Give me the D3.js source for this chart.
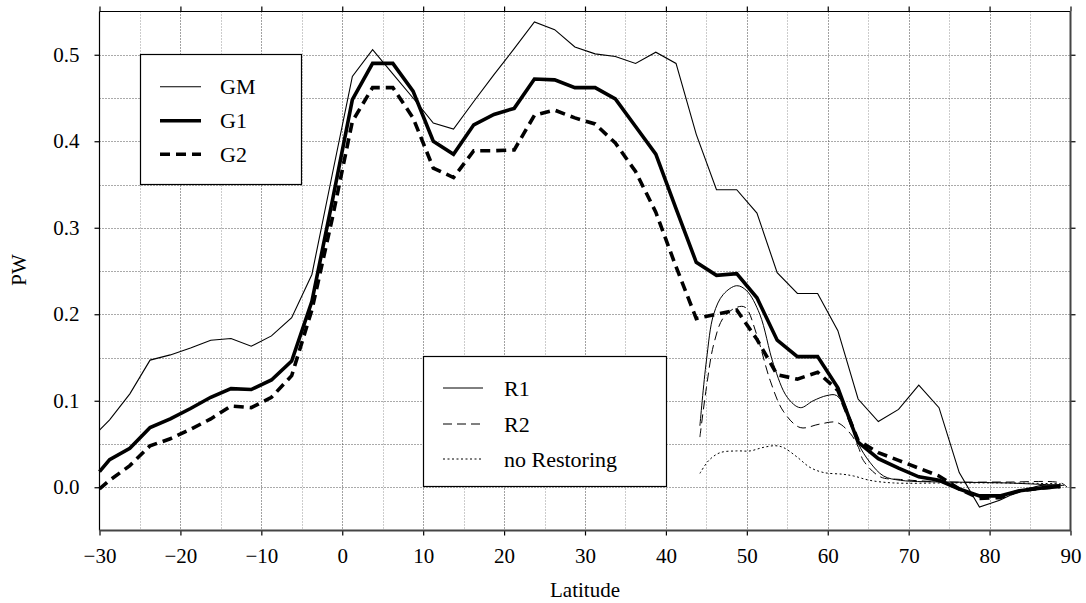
<!DOCTYPE html>
<html>
<head>
<meta charset="utf-8">
<script src="https://cdn.jsdelivr.net/npm/d3@7/dist/d3.min.js"></script>
<style>
  html, body { margin: 0; padding: 0; background: #fff; }
  svg { display: block; }
  text { font-family: "Liberation Serif", "Times New Roman", serif; fill: #000; }
</style>
</head>
<body>
<svg id="chart" width="1086" height="603"></svg>
<script>
// Latitude grid shared by the GM, G1 and G2 runs
const latG = [-30, -28.75, -26.25, -23.75, -21.25, -18.75, -16.25, -13.75, -11.25, -8.75,
  -6.25, -3.75, -1.25, 1.25, 3.75, 6.25, 8.75, 11.25, 13.75, 16.25, 18.75, 21.25, 23.75,
  26.25, 28.75, 31.25, 33.75, 36.25, 38.75, 41.25, 43.75, 46.25, 48.75, 51.25, 53.75,
  56.25, 58.75, 61.25, 63.75, 66.25, 68.75, 71.25, 73.75, 76.25, 78.75, 81.25, 83.75,
  86.25, 88.75];

const GM = [0.066, 0.078, 0.108, 0.147, 0.153, 0.161, 0.170, 0.172, 0.163, 0.175,
  0.196, 0.246, 0.361, 0.475, 0.506, 0.478, 0.450, 0.421, 0.414, 0.446, 0.477, 0.507, 0.538,
  0.529, 0.509, 0.501, 0.498, 0.490, 0.503, 0.490, 0.408, 0.344, 0.344, 0.317, 0.248,
  0.224, 0.224, 0.181, 0.102, 0.076, 0.090, 0.118, 0.092, 0.017, -0.023, -0.015, -0.004,
  0.002, 0.003];

const G1 = [0.018, 0.032, 0.045, 0.069, 0.079, 0.091, 0.104, 0.114, 0.113, 0.124,
  0.146, 0.215, 0.330, 0.448, 0.490, 0.490, 0.458, 0.400, 0.385, 0.419, 0.431, 0.438, 0.472,
  0.471, 0.462, 0.462, 0.449, 0.417, 0.385, 0.322, 0.260, 0.245, 0.247, 0.219, 0.170,
  0.151, 0.151, 0.115, 0.052, 0.033, 0.022, 0.012, 0.008, -0.002, -0.010, -0.010, -0.004,
  -0.001, 0.001];

const G2 = [-0.002, 0.008, 0.025, 0.048, 0.056, 0.067, 0.079, 0.094, 0.092, 0.104,
  0.129, 0.205, 0.310, 0.423, 0.462, 0.462, 0.427, 0.369, 0.358, 0.389, 0.389, 0.390, 0.430,
  0.436, 0.427, 0.420, 0.398, 0.365, 0.318, 0.255, 0.195, 0.200, 0.205, 0.171, 0.130,
  0.125, 0.133, 0.112, 0.054, 0.040, 0.031, 0.022, 0.013, -0.002, -0.013, -0.012, -0.004,
  -0.001, 0.001];

// Restoring experiments, northern high latitudes only
const latR1 = [44.2, 45.0, 45.9, 47.1, 48.75, 50.0, 51.6, 53.3, 55.0, 56.6, 58.2, 59.9,
  61.1, 62.8, 63.8, 65.2, 66.9, 69.0, 75.2, 82.0, 89.2];
const R1 = [0.071, 0.146, 0.200, 0.223, 0.233, 0.227, 0.200, 0.142, 0.104, 0.092, 0.100, 0.106,
  0.106, 0.077, 0.050, 0.029, 0.013, 0.008, 0.006, 0.005, 0.002];

const latR2 = [44.2, 45.0, 45.9, 47.1, 48.75, 49.8, 51.2, 52.9, 54.5, 56.6, 59.0, 61.1,
  62.8, 63.8, 64.4, 66.5, 69.0, 75.0, 82.0, 88.8, 89.6];
const R2 = [0.058, 0.115, 0.165, 0.196, 0.208, 0.208, 0.177, 0.123, 0.088, 0.069, 0.073, 0.075,
  0.062, 0.046, 0.031, 0.012, 0.009, 0.006, 0.006, 0.005, 0.000];

const latNR = [44.2, 45.3, 46.7, 48.75, 50.4, 52.0, 53.5, 54.5, 56.2, 57.8, 59.5, 61.9,
  63.2, 65.2, 68.1, 75.0, 82.0, 88.8];
const NR = [0.016, 0.031, 0.040, 0.042, 0.042, 0.046, 0.048, 0.046, 0.035, 0.023, 0.017, 0.015,
  0.013, 0.008, 0.005, 0.005, 0.005, 0.004];

const xTicks = [-30, -20, -10, 0, 10, 20, 30, 40, 50, 60, 70, 80, 90];
const yTicks = [0.0, 0.1, 0.2, 0.3, 0.4, 0.5];
const xGrid = [-25, -20, -15, -10, -5, 0, 5, 10, 15, 20, 25, 30, 35, 40, 45, 50, 55, 60, 65, 70, 75, 80, 85];
const yGrid = [0.0, 0.05, 0.1, 0.15, 0.2, 0.25, 0.3, 0.35, 0.4, 0.45, 0.5];

const legendTop = ["GM", "G1", "G2"];
const legendBottom = ["R1", "R2", "no Restoring"];

const svg = d3.select("#chart");
const L = 99.5, R = 1070.5, T = 11.5, B = 530.5;

const x = d3.scaleLinear().domain([-30, 90]).range([L, R]);
const y = d3.scaleLinear().domain([-0.05, 0.55]).range([B, T]);

const FS = 21;

// grid
const grid = svg.append("g");
grid.selectAll("line.vg").data(xGrid).join("line")
  .attr("x1", d => Math.round(x(d)) + 0.5).attr("x2", d => Math.round(x(d)) + 0.5)
  .attr("y1", T).attr("y2", B)
  .attr("stroke", d => d % 10 === 0 ? "#444" : "#999")
  .attr("stroke-width", 1).attr("stroke-dasharray", "1,2");
grid.selectAll("line.hg").data(yGrid).join("line")
  .attr("x1", L).attr("x2", R)
  .attr("y1", d => Math.round(y(d)) + 0.5).attr("y2", d => Math.round(y(d)) + 0.5)
  .attr("stroke", "#555").attr("stroke-width", 1).attr("stroke-dasharray", "1,2");

// axes with outward ticks on all four sides
const fmtY = d3.format(".1f");
const axB = svg.append("g").attr("transform", `translate(0,${B})`)
  .call(d3.axisBottom(x).tickValues(xTicks).tickSize(5).tickPadding(13));
const axT = svg.append("g").attr("transform", `translate(0,${T})`)
  .call(d3.axisTop(x).tickValues(xTicks).tickSize(5).tickFormat(""));
const axL = svg.append("g").attr("transform", `translate(${L},0)`)
  .call(d3.axisLeft(y).tickValues(yTicks).tickSize(5).tickPadding(15).tickFormat(fmtY));
const axR = svg.append("g").attr("transform", `translate(${R},0)`)
  .call(d3.axisRight(y).tickValues(yTicks).tickSize(5).tickFormat(""));
[axB, axT, axL, axR].forEach(a => {
  a.select(".domain").remove();
  a.selectAll("line").attr("stroke", "#000").attr("stroke-width", 1.2);
  a.selectAll("text").attr("font-size", FS).attr("font-family", "Liberation Serif").attr("fill", "#000");
});
axB.selectAll("text").attr("dy", "0.71em");

// frame
svg.append("line").attr("x1", L).attr("x2", R).attr("y1", T).attr("y2", T).attr("stroke", "#000").attr("stroke-width", 1.2);
svg.append("line").attr("x1", L).attr("x2", L).attr("y1", T).attr("y2", B).attr("stroke", "#000").attr("stroke-width", 1.2);
svg.append("line").attr("x1", L).attr("x2", R + 0.5).attr("y1", B).attr("y2", B).attr("stroke", "#444").attr("stroke-width", 2);
svg.append("line").attr("x1", R).attr("x2", R).attr("y1", T).attr("y2", B).attr("stroke", "#444").attr("stroke-width", 2);

// axis titles
svg.append("text").attr("x", (L + R) / 2).attr("y", 597).attr("text-anchor", "middle")
  .attr("font-size", FS).text("Latitude");
svg.append("text").attr("transform", "translate(26,270) rotate(-90)").attr("text-anchor", "middle")
  .attr("font-size", FS).text("PW");

// series
const styles = {
  GM: { w: 1.1, dash: null },
  G1: { w: 3.6, dash: null },
  G2: { w: 3.6, dash: "10,6" },
  R1: { w: 1.0, dash: null },
  R2: { w: 1.0, dash: "9,5" },
  NR: { w: 1.0, dash: "2,2.5" }
};

const poly = d3.line().x(d => x(d[0])).y(d => y(d[1]));
const smooth = d3.line().x(d => x(d[0])).y(d => y(d[1])).curve(d3.curveCatmullRom.alpha(0.5));

const plot = svg.append("g");
function drawSeries(lats, vals, gen, st) {
  const pts = lats.map((l, i) => [l, vals[i]]);
  const p = plot.append("path").datum(pts).attr("d", gen)
    .attr("fill", "none").attr("stroke", "#000").attr("stroke-width", st.w)
    .attr("stroke-linejoin", "miter");
  if (st.dash) p.attr("stroke-dasharray", st.dash);
}
drawSeries(latNR, NR, smooth, styles.NR);
drawSeries(latR2, R2, smooth, styles.R2);
drawSeries(latR1, R1, smooth, styles.R1);
drawSeries(latG, GM, poly, styles.GM);
drawSeries(latG, G2, poly, styles.G2);
drawSeries(latG, G1, poly, styles.G1);

// legends
function legend(x0, y0, x1, y1, names, keys, rowY, sx0, sx1, tx, baseOff) {
  const g = svg.append("g");
  g.append("rect").attr("x", x0).attr("y", y0).attr("width", x1 - x0).attr("height", y1 - y0)
    .attr("fill", "#fff").attr("stroke", "#000").attr("stroke-width", 1.2);
  names.forEach((n, i) => {
    const st = styles[keys[i]];
    const ln = g.append("line").attr("x1", sx0).attr("x2", sx1).attr("y1", rowY[i]).attr("y2", rowY[i])
      .attr("stroke", "#000").attr("stroke-width", st.w);
    if (st.dash) ln.attr("stroke-dasharray", st.dash);
    g.append("text").attr("x", tx).attr("y", rowY[i] + baseOff).attr("font-size", FS + 1).text(n);
  });
}
legend(140.5, 54.5, 301.5, 184.5, legendTop, ["GM", "G1", "G2"], [86.7, 120.7, 154.2], 160, 201, 220, 7.6);
legend(423.5, 356.5, 666.5, 486.5, legendBottom, ["R1", "R2", "NR"], [388, 424, 459], 443, 483, 504, 7.6);
</script>
</body>
</html>
